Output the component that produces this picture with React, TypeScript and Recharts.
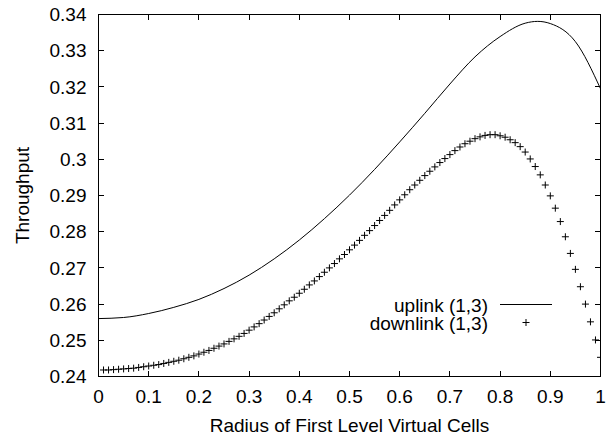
import { ComposedChart, Line, Scatter, XAxis, YAxis } from "recharts";

const xTicks = [0, 0.1, 0.2, 0.3, 0.4, 0.5, 0.6, 0.7, 0.8, 0.9, 1];
const yTicks = [0.24, 0.25, 0.26, 0.27, 0.28, 0.29, 0.3, 0.31, 0.32, 0.33, 0.34];

const uplinkRadius = [0, 0.05, 0.1, 0.15, 0.2, 0.25, 0.3, 0.35, 0.4, 0.45, 0.5, 0.55, 0.6, 0.65, 0.7, 0.75, 0.8, 0.85, 0.875, 0.9, 0.95, 1];
const uplinkThroughput = [
  0.256, 0.2563, 0.2574, 0.2591, 0.2613, 0.2643, 0.268, 0.2725, 0.2777, 0.2836, 0.2901,
  0.2972, 0.3048, 0.3127, 0.3208, 0.3283, 0.3339, 0.3376, 0.3381, 0.3375, 0.3325, 0.3195,
];

const downlinkRadius = [
  0.01, 0.02, 0.03, 0.04, 0.05, 0.06, 0.07, 0.08, 0.09, 0.1,
  0.11, 0.12, 0.13, 0.14, 0.15, 0.16, 0.17, 0.18, 0.19, 0.2,
  0.21, 0.22, 0.23, 0.24, 0.25, 0.26, 0.27, 0.28, 0.29, 0.3,
  0.31, 0.32, 0.33, 0.34, 0.35, 0.36, 0.37, 0.38, 0.39, 0.4,
  0.41, 0.42, 0.43, 0.44, 0.45, 0.46, 0.47, 0.48, 0.49, 0.5,
  0.51, 0.52, 0.53, 0.54, 0.55, 0.56, 0.57, 0.58, 0.59, 0.6,
  0.61, 0.62, 0.63, 0.64, 0.65, 0.66, 0.67, 0.68, 0.69, 0.7,
  0.71, 0.72, 0.73, 0.74, 0.75, 0.76, 0.77, 0.78, 0.79, 0.8,
  0.81, 0.82, 0.83, 0.84, 0.85, 0.86, 0.87, 0.88, 0.89, 0.9,
  0.91, 0.92, 0.93, 0.94, 0.95, 0.96, 0.97, 0.98, 0.99, 1,
];
const downlinkThroughput = [
  0.2418, 0.2418, 0.2419, 0.242, 0.2421, 0.2422, 0.2423, 0.2425, 0.2427, 0.2429,
  0.2431, 0.2433, 0.2436, 0.2439, 0.2442, 0.2445, 0.2449, 0.2453, 0.2457, 0.2462,
  0.2467, 0.2472, 0.2478, 0.2484, 0.249, 0.2497, 0.2504, 0.2511, 0.2519, 0.2528,
  0.2537, 0.2546, 0.2556, 0.2566, 0.2576, 0.2587, 0.2598, 0.2609, 0.2619, 0.263,
  0.2641, 0.2653, 0.2664, 0.2676, 0.2688, 0.27, 0.2712, 0.2725, 0.2737, 0.275,
  0.2763, 0.2776, 0.279, 0.2803, 0.2817, 0.2831, 0.2845, 0.2859, 0.2874, 0.2888,
  0.2902, 0.2916, 0.2929, 0.2942, 0.2955, 0.2967, 0.2979, 0.2991, 0.3002, 0.3013,
  0.3024, 0.3034, 0.3043, 0.305, 0.3057, 0.3062, 0.3066, 0.3068, 0.3068, 0.3065,
  0.3061, 0.3054, 0.3046, 0.3035, 0.302, 0.3001, 0.298, 0.2957, 0.2929, 0.2899,
  0.2865, 0.2828, 0.2786, 0.274, 0.2696, 0.2648, 0.26, 0.2551, 0.2501, 0.2453,
];

const FONT = "'Liberation Sans', Arial, Helvetica, sans-serif";
const tickStyle = { fill: "#000", fontSize: 19, fontFamily: FONT };
const black = { stroke: "#000" };

// plot box (same numbers as the chart margins / axis sizes below)
const W = 613;
const H = 437;
const BOX = { left: 98.5, right: 600.5, top: 14.5, bottom: 376.5 };
const TICK = 5;

const uplink = uplinkRadius.map((x, i) => ({ x, y: uplinkThroughput[i] }));
const downlink = downlinkRadius.map((x, i) => ({ x, y: downlinkThroughput[i] }));

// gnuplot-style frame with inward ticks on all four sides
const fx = (v: number) => Math.floor(BOX.left + v * (BOX.right - BOX.left));
const fy = (v: number) => Math.floor(BOX.bottom - ((v - 0.24) / 0.1) * (BOX.bottom - BOX.top));

const Plus = (props: any) => {
  const { cx, cy } = props;
  return <path d={`M${cx - 3.5},${cy}h7M${cx},${cy - 3.5}v7`} stroke="#000" strokeWidth={1} fill="none" />;
};

const YLabel = (props: any) => {
  const vb = props.viewBox || { x: 0, y: 0, height: 0 };
  const x = 22;
  const y = vb.y + vb.height / 2;
  return (
    <text x={x} y={y} transform={`rotate(-90, ${x}, ${y})`} textAnchor="middle" dominantBaseline="central"
      fill="#000" fontSize={19} fontFamily={FONT}>
      Throughput
    </text>
  );
};

const stub = (left: number, top: number, w: number, h: number, key: string) => (
  <div key={key} style={{ position: "absolute", left, top, width: w, height: h, background: "#000" }} />
);

export default function App() {
  const bx = Math.floor(BOX.left);
  const by = Math.floor(BOX.top);
  const rx = Math.floor(BOX.right);
  const bb = Math.floor(BOX.bottom);
  return (
    <div style={{ position: "absolute", left: 0, top: 0, width: W, height: H, background: "#fff" }}>
      <ComposedChart width={W} height={H} margin={{ top: BOX.top, right: W - BOX.right, bottom: 0.5, left: 0 }}>
        <XAxis type="number" dataKey="x" domain={[0, 1]} ticks={xTicks} allowDataOverflow
          height={60} tickSize={0} tickLine={false} tickMargin={13.5} tick={tickStyle} axisLine={black}
          label={{ value: "Radius of First Level Virtual Cells", position: "insideBottom", offset: 5,
            fill: "#000", fontSize: 19, fontFamily: FONT }} />
        <YAxis type="number" domain={[0.24, 0.34]} ticks={yTicks} allowDataOverflow
          width={BOX.left} tickSize={0} tickLine={false} tickMargin={12} tick={tickStyle} axisLine={black}
          label={<YLabel />} />
        <Line data={uplink} dataKey="y" type="monotone" stroke="#000"
          strokeWidth={1} dot={false} activeDot={false} isAnimationActive={false} />
        <Scatter data={downlink} dataKey="y" shape={<Plus />} isAnimationActive={false} />
      </ComposedChart>
      <div style={{ position: "absolute", left: bx, top: by, width: rx - bx + 1, height: bb - by + 1,
        boxSizing: "border-box", border: "1px solid #000", pointerEvents: "none" }} />
      {xTicks.map((t) => stub(fx(t), bb - TICK, 1, TICK, `b${t}`))}
      {xTicks.map((t) => stub(fx(t), by + 1, 1, TICK, `t${t}`))}
      {yTicks.map((t) => stub(bx + 1, fy(t), TICK, 1, `l${t}`))}
      {yTicks.map((t) => stub(rx - TICK, fy(t), TICK, 1, `r${t}`))}
      <svg width={W} height={H} style={{ position: "absolute", left: 0, top: 0, pointerEvents: "none" }}>
        <g fontFamily={FONT} fontSize={19} fill="#000">
          <text x={488} y={311.5} textAnchor="end">uplink (1,3)</text>
          <text x={488} y={329.5} textAnchor="end">downlink (1,3)</text>
        </g>
        <line x1={500} x2={552} y1={304.5} y2={304.5} stroke="#000" strokeWidth={1} />
        <Plus cx={526} cy={322.5} />
      </svg>
    </div>
  );
}
